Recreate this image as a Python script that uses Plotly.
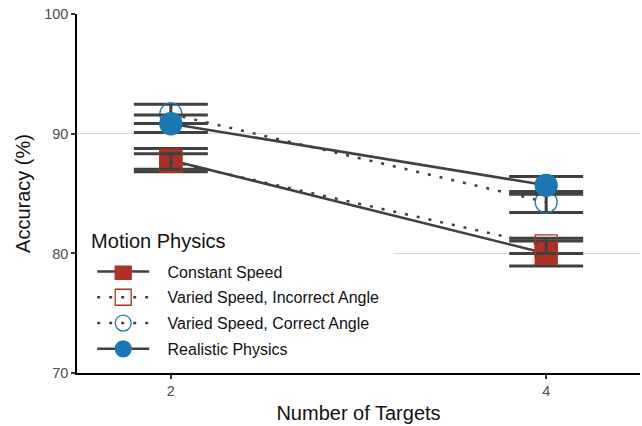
import plotly.graph_objects as go

targets = [2, 4]
series_names = ["Constant Speed", "Varied Speed, Incorrect Angle",
                "Varied Speed, Correct Angle", "Realistic Physics"]
constant_speed = [87.8, 80.0]
constant_err = [0.97, 1.04]
incorrect_angle = [87.7, 80.64]
incorrect_err = [0.65, 0.64]
correct_angle = [91.67, 84.3]
correct_err = [0.81, 0.88]
realistic = [90.85, 85.7]
realistic_err = [0.74, 0.74]

y_ticks = [70, 80, 90, 100]
x_ticks = [2, 4]
legend_title = "Motion Physics"

RED = "#AD3124"
BLUE = "#1B78B2"
DARK = "#404040"
FONT = "Liberation Sans, Arial, Helvetica, sans-serif"
DOTTED = "3px,9px"

styles = [
    dict(y=constant_speed, e=constant_err, dash="solid", symbol="square", color=RED),
    dict(y=incorrect_angle, e=incorrect_err, dash=DOTTED, symbol="square-open", color=RED),
    dict(y=correct_angle, e=correct_err, dash=DOTTED, symbol="circle-open", color=BLUE),
    dict(y=realistic, e=realistic_err, dash="solid", symbol="circle", color=BLUE),
]

fig = go.Figure()
for name, s in zip(series_names, styles):
    fig.add_trace(go.Scatter(
        x=targets, y=s["y"], name="&nbsp;&nbsp;&nbsp;" + name + "&nbsp;&nbsp;",
        mode="lines+markers",
        legendgroup=name,
        line=dict(color=DARK, width=2.5, dash=s["dash"]),
        marker=dict(symbol=s["symbol"], color=s["color"], size=22,
                    line=dict(color=s["color"], width=1.3)),
        error_y=dict(type="data", array=s["e"], visible=True,
                     color=DARK, thickness=3, width=37),
    ))

fig.update_layout(
    width=642, height=426,
    margin=dict(l=77, r=2, t=14, b=53, autoexpand=False),
    paper_bgcolor="white", plot_bgcolor="white",
    font=dict(family=FONT, color="#222222"),
    showlegend=True,
    legend=dict(
        x=0.027, y=0.33, xanchor="left", yanchor="top",
        bgcolor="white",
        font=dict(size=16, color="#111111"),
        traceorder="grouped", tracegroupgap=2,
        itemwidth=52,
    ),
    annotations=[dict(
        text="&nbsp;&nbsp;" + legend_title, xref="paper", yref="paper",
        x=0.002, y=0.405, xanchor="left", yanchor="top",
        showarrow=False, align="left",
        font=dict(size=20, color="#111111"),
        bgcolor="white", width=312, height=34, valign="top",
    )],
    xaxis=dict(
        range=[1.5, 4.5], tickvals=x_ticks, ticktext=[str(v) for v in x_ticks],
        automargin=False,
        showgrid=False, zeroline=False,
        showline=True, linecolor="black", linewidth=1.5,
        ticks="outside", ticklen=4, tickcolor="#333333", tickwidth=1.5,
        tickfont=dict(size=14.5, color="#4D4D4D"),
        title=dict(text="Number of Targets", font=dict(size=20, color="#111111"), standoff=8),
    ),
    yaxis=dict(
        range=[70, 100.03], tickvals=y_ticks, ticklabeloverflow="allow",
        automargin=False,
        showgrid=True, gridcolor="#D9D9D9", gridwidth=1, zeroline=False,
        showline=True, linecolor="black", linewidth=1.5,
        ticks="outside", ticklen=4, tickcolor="#333333", tickwidth=1.5,
        tickfont=dict(size=14.5, color="#4D4D4D"),
        title=dict(text="Accuracy (%)", font=dict(size=20, color="#111111"), standoff=8),
    ),
)

fig.write_html("out.html", config={"displayModeBar": False},
               post_script="document.body.style.margin='0';")
